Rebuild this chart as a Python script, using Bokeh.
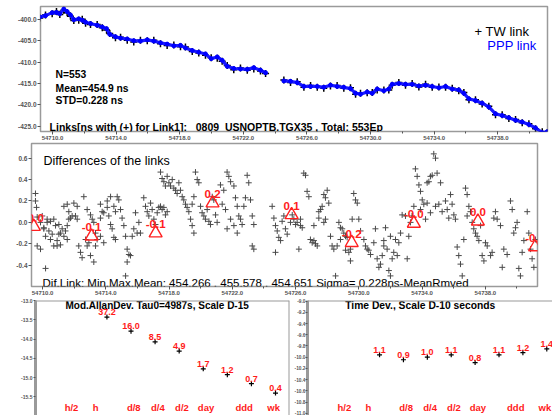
import numpy as np
from bokeh.plotting import figure
from bokeh.layouts import column, row
from bokeh.models import Range1d, FixedTicker, NumeralTickFormatter, Span
from bokeh.core.properties import value
from bokeh.embed import file_html
from bokeh.resources import INLINE

FONT = "Liberation Sans"
FRAME = "#9a9a9a"
TICK = "#555555"

# ---------------- data: top panel (links, ns) ----------------
top_mjd = [54709.20, 54709.56, 54709.98, 54710.25, 54710.46, 54710.71, 54710.92, 54711.13, 54711.34, 54711.65,
           54711.87, 54712.08, 54712.39, 54712.81, 54713.13, 54713.40, 54713.60, 54713.96, 54714.28, 54714.70,
           54715.11, 54715.53, 54715.96, 54716.37, 54716.79, 54717.21, 54717.63, 54718.05, 54718.36, 54718.79,
           54719.20, 54719.62, 54719.98, 54720.36, 54720.67, 54720.99, 54721.40, 54721.82, 54722.25, 54722.66,
           54723.08, 54723.40,
           54724.55, 54724.97, 54725.39, 54725.81, 54726.23, 54726.65, 54727.06, 54727.48, 54727.90, 54728.32,
           54728.74, 54729.06, 54729.37, 54729.79, 54730.11, 54730.42, 54730.84, 54731.15, 54731.36, 54731.78,
           54732.20, 54732.62, 54733.04, 54733.46, 54733.88, 54734.30, 54734.72, 54735.14, 54735.55, 54735.87,
           54736.19, 54736.60, 54737.02, 54737.44, 54737.86, 54738.28, 54738.70, 54739.12, 54739.54, 54739.96,
           54740.38, 54740.80, 54741.11]
ppp_ns = [-399.47, -399.15, -398.45, -398.4, -398.7, -397.6, -398.2, -399.0, -400.1, -399.9,
          -400.2, -400.7, -401.0, -401.4, -401.8, -402.2, -403.5, -404.1, -404.4, -404.6,
          -405.0, -405.1, -404.8, -405.1, -405.5, -405.8, -406.2, -406.1, -406.7, -407.3,
          -407.7, -408.1, -409.2, -408.8, -409.6, -411.0, -411.5, -411.6, -411.7, -411.3,
          -411.9, -412.5,
          -414.4, -414.5, -414.8, -415.7, -415.7, -415.7, -415.9, -415.4, -415.7, -415.9,
          -416.2, -417.3, -417.5, -417.0, -417.3, -416.3, -416.7, -416.3, -415.2, -415.0,
          -415.2, -415.2, -415.6, -415.4, -415.7, -416.0, -415.7, -416.3, -416.5, -417.3,
          -418.6, -419.0, -419.6, -420.5, -422.1, -422.5, -423.0, -423.6, -424.0, -424.6,
          -425.4, -426.5, -426.3]
tw_ns = [-399.7, -399.0, -398.7, -398.2, -398.9, -397.9, -398.5, -399.3, -400.3, -400.2,
         -400.0, -400.9, -401.2, -401.2, -402.0, -402.5, -403.3, -404.3, -404.2, -404.9,
         -405.3, -404.9, -405.0, -404.9, -405.7, -406.1, -406.0, -406.4, -406.5, -407.5,
         -407.9, -408.4, -409.0, -409.1, -409.8, -410.8, -411.8, -411.4, -411.9, -411.6,
         -412.1, -412.7,
         -414.2, -414.8, -414.6, -415.9, -415.5, -415.9, -416.1, -415.6, -415.5, -416.1,
         -416.0, -417.5, -417.3, -417.2, -417.1, -416.5, -416.5, -416.5, -415.4, -414.8,
         -415.4, -415.0, -415.8, -415.2, -415.9, -415.8, -415.9, -416.1, -416.7, -417.1,
         -418.8, -418.8, -419.8, -420.3, -422.3, -422.3, -423.2, -423.4, -424.2, -424.4,
         -425.6, -426.3, -426.5]
top_yticks = [-425, -420, -415, -410, -405, -400]
mjd_ticks = [54710, 54714, 54718, 54722, 54726, 54730, 54734, 54738]
mjd_minor = list(range(54710, 54742, 2))

# ---------------- data: middle panel (differences, ns) ----------------
diff_mjd = [54709.55, 54709.55, 54709.62, 54709.66, 54709.98, 54710.29, 54710.50, 54710.71, 54710.82, 54711.03,
            54710.08, 54710.40, 54710.61, 54711.03, 54711.13, 54711.35, 54711.56, 54709.66, 54709.87, 54710.08,
            54710.19, 54710.50, 54710.71, 54710.92, 54711.13, 54711.56, 54711.66, 54711.77, 54711.87, 54711.35,
            54711.56, 54711.66, 54711.98, 54712.19, 54710.19, 54709.87, 54710.29, 54710.92, 54711.24, 54711.45,
            54712.08, 54712.19, 54712.29, 54712.40, 54712.50, 54712.72, 54712.82, 54712.93, 54713.03, 54713.24,
            54713.35, 54712.61, 54712.82, 54713.03, 54713.14, 54713.24, 54713.35, 54713.45, 54713.66, 54713.87,
            54713.66, 54713.77, 54713.87, 54714.09, 54714.09, 54714.30, 54713.66,
            54714.19, 54714.30, 54714.40, 54714.51, 54714.61, 54714.72, 54714.82, 54714.93, 54715.03, 54714.51,
            54714.61, 54715.14, 54715.25, 54715.35, 54715.46, 54715.56, 54715.35, 54715.25, 54715.67, 54715.77,
            54715.88, 54715.98, 54716.19, 54716.09,
            54716.40, 54716.51, 54716.62, 54716.72, 54716.83, 54716.93, 54717.04, 54717.14, 54717.25, 54717.35,
            54717.46, 54717.56, 54717.67, 54717.77, 54717.88, 54717.46, 54717.56, 54717.67, 54717.77, 54717.88,
            54717.99, 54718.09, 54718.20, 54718.30, 54718.41, 54718.51, 54718.62,
            54718.72, 54718.83, 54718.93, 54719.04, 54719.14, 54719.25, 54719.36, 54719.46, 54719.57, 54719.67,
            54719.78, 54719.88, 54719.99, 54720.09, 54720.20, 54720.30, 54720.41, 54720.52, 54720.62, 54720.73,
            54720.83, 54720.94, 54721.04, 54719.46, 54719.57,
            54721.25, 54721.46, 54721.67, 54721.78, 54721.89, 54722.10, 54722.20, 54722.31, 54722.41, 54722.52,
            54722.62, 54722.73, 54722.83, 54722.94, 54723.04, 54723.15, 54723.26, 54723.36, 54723.26, 54723.36,
            54721.36, 54721.57, 54721.89, 54722.10, 54721.67, 54722.31,
            54724.52, 54724.63, 54724.73, 54724.84, 54724.94, 54725.05, 54725.15, 54725.26, 54725.36, 54725.47,
            54724.73, 54725.68, 54725.79, 54725.89, 54726.00, 54726.10, 54726.21, 54726.31, 54726.42, 54726.52,
            54726.63, 54726.73, 54726.84, 54726.31,
            54726.94, 54727.05, 54727.16, 54727.26, 54727.37, 54727.47, 54727.58, 54727.68, 54727.79, 54727.89,
            54728.00, 54728.10, 54728.21, 54728.31, 54728.42, 54728.53, 54728.63, 54727.79, 54727.89, 54727.47,
            54727.16,
            54728.74, 54728.84, 54728.95, 54729.05, 54729.16, 54729.26, 54729.37, 54729.47, 54729.58, 54729.68,
            54729.79, 54729.90, 54730.00, 54730.11, 54730.32, 54730.42, 54730.53, 54730.63, 54730.74, 54728.84,
            54729.16, 54729.47,
            54730.95, 54731.05, 54731.16, 54731.27, 54731.37, 54731.48, 54731.58, 54731.69, 54731.79, 54731.90,
            54732.00, 54732.11, 54732.21, 54732.32, 54732.43, 54732.53, 54732.64, 54732.74, 54732.00, 54731.58,
            54732.95, 54733.06, 54733.16, 54733.27, 54733.37, 54733.48, 54733.58, 54733.69, 54733.80, 54733.90,
            54734.01, 54734.11, 54734.22, 54734.32, 54734.43, 54734.53, 54734.64, 54734.74, 54734.85, 54734.95,
            54735.06, 54735.17, 54735.27, 54734.85, 54733.90, 54734.32, 54734.53,
            54735.48, 54735.59, 54735.69, 54735.80, 54735.90, 54736.01, 54736.11, 54736.22, 54736.32, 54736.43,
            54736.54, 54736.64, 54736.75, 54736.85, 54736.96, 54737.06, 54737.17, 54737.27, 54737.38, 54737.48,
            54737.59, 54737.70, 54737.80, 54737.91, 54736.85,
            54738.01, 54738.12, 54738.33, 54738.43, 54738.54, 54738.64, 54738.75, 54738.96, 54739.07, 54739.17,
            54739.38, 54739.59, 54739.70, 54739.80, 54739.91, 54740.01, 54740.12, 54740.22, 54740.33, 54740.44,
            54740.65, 54740.75, 54740.86, 54740.96, 54741.07, 54741.17]
diff_ns = [0.27, 0.20, 0.14, 0.05, 0.06, 0.03, 0.01, 0.03, -0.03, -0.02,
           -0.06, -0.08, -0.11, -0.11, -0.10, -0.13, -0.16, -0.22, -0.25, -0.05,
           -0.13, -0.16, -0.22, -0.22, -0.21, -0.03, 0.03, 0.04, 0.06, 0.15,
           0.17, 0.10, 0.18, 0.15, -0.43, 0.00, 0.00, -0.17, -0.06, -0.08,
           0.06, 0.03, -0.22, -0.28, -0.33, -0.16, -0.22, -0.19, -0.31, -0.37,
           -0.22, 0.24, 0.12, 0.07, 0.03, 0.00, -0.10, -0.16, -0.13, -0.19,
           0.04, 0.10, 0.09, 0.14, 0.20, 0.24, 0.17,
           0.06, -0.02, -0.06, -0.14, -0.16, 0.24, 0.21, 0.12, 0.04, 0.15,
           0.10, -0.03, -0.13, -0.25, -0.30, -0.31, -0.37, -0.50, -0.13, -0.06,
           0.09, -0.10, -0.10, 0.00,
           0.23, 0.15, 0.10, 0.06, 0.18, 0.12, 0.03, -0.02, 0.09, 0.14,
           0.15, 0.12, 0.14, 0.07, 0.10, 0.47, 0.41, 0.38, 0.34, 0.43,
           0.37, 0.34, 0.40, 0.32, 0.30, 0.27, 0.37,
           0.30, 0.24, 0.21, 0.17, 0.14, 0.10, 0.03, -0.03, -0.10, 0.47,
           0.40, 0.37, 0.15, 0.09, 0.06, 0.03, 0.12, 0.01, -0.02, 0.24,
           0.21, 0.07, 0.00, 0.17, 0.24,
           0.35, 0.30, 0.47, 0.43, 0.38, 0.34, 0.23, 0.15, 0.06, 0.03,
           -0.02, 0.15, 0.23, 0.44, 0.37, 0.21, 0.06, -0.02, -0.22, -0.25,
           0.17, 0.12, 0.03, -0.03, -0.06, -0.10,
           0.15, 0.04, -0.03, -0.08, -0.14, -0.17, 0.01, 0.06, -0.06, -0.11,
           -0.28, 0.00, 0.07, 0.03, -0.02, 0.00, -0.25, -0.03, -0.05, 0.46,
           0.44, 0.29, 0.24, 0.03,
           -0.16, -0.19, -0.17, -0.20, -0.22, 0.10, 0.12, 0.15, 0.26, 0.23,
           0.30, 0.18, -0.13, -0.22, -0.25, -0.50, -0.22, 0.00, 0.03, 0.04,
           -0.03,
           0.00, -0.05, -0.06, -0.10, -0.13, -0.14, -0.28, -0.36, 0.03, 0.27,
           0.21, 0.18, 0.03, -0.08, -0.16, -0.22, -0.25, -0.26, -0.30, -0.16,
           -0.26, -0.25,
           -0.19, -0.06, -0.34, -0.42, -0.39, -0.31, -0.17, -0.05, -0.25, -0.45,
           -0.50, -0.34, -0.28, -0.16, -0.31, -0.19, -0.10, 0.07, -0.13, -0.22,
           0.06, -0.34, -0.13, 0.00, 0.06, 0.15, 0.50, 0.43, 0.35, 0.29,
           0.21, 0.17, 0.03, 0.37, 0.38, 0.43, 0.44, 0.64, 0.60, 0.46,
           0.17, 0.37, 0.10, 0.15, 0.12, 0.18, 0.09,
           0.20, 0.12, 0.04, 0.26, 0.17, 0.07, 0.03, -0.23, -0.31, -0.39,
           -0.50, -0.16, 0.32, 0.26, 0.15, 0.10, 0.00, -0.06, -0.10, -0.13,
           -0.17, -0.03, -0.31, -0.36, 0.06,
           -0.19, -0.22, -0.31, -0.28, 0.04, 0.10, 0.03, -0.03, -0.42, -0.25,
           -0.30, 0.20, 0.12, -0.10, -0.05, 0.00, -0.43, -0.50, -0.28, -0.17,
           0.10, -0.10, -0.25, -0.34, -0.42, -0.16]
tri_mjd = [54709.45, 54713.10, 54717.15, 54720.75, 54725.75, 54729.55, 54733.48, 54737.53, 54741.15]
tri_ns = [-0.04, -0.13, -0.10, 0.18, 0.07, -0.19, -0.01, 0.01, -0.23]
tri_text = ["-0.0", "-0.1", "-0.1", "0.2", "0.1", "-0.2", "-0.0", "0.0", "-0.2"]
mid_yticks = [-0.4, -0.2, 0.0, 0.2, 0.4, 0.6]

# ---------------- data: bottom panels ----------------
tau_s = [4987, 9974, 19948, 39896, 79792, 159584, 319168, 638336]
mdev_e15 = [37.2, 16.0, 8.5, 4.9, 1.7, 1.2, 0.7, 0.4]
tdev_e10 = [1.1, 0.9, 1.0, 1.1, 0.8, 1.1, 1.2, 1.4]
cat_labels = ["h/2", "h", "d/8", "d/4", "d/2", "day", "ddd", "wk"]
cat_tau = [1800, 3600, 10800, 21600, 43200, 86400, 259200, 604800]
mdev_yticks = [-16.0, -15.5, -15.0, -14.5, -14.0, -13.5, -13.0]
tdev_yticks = [-11.0, -10.8, -10.6, -10.4, -10.2, -10.0, -9.8, -9.6, -9.4, -9.2, -9.0]


def style_axis(ax, size="6.5px"):
    ax.major_label_text_font = FONT
    ax.major_label_text_font_size = size
    ax.major_label_text_font_style = "bold"
    ax.major_label_text_color = TICK
    ax.axis_line_color = None
    ax.major_tick_line_color = TICK
    ax.major_tick_out = 3
    ax.major_tick_in = 0
    ax.minor_tick_line_color = TICK
    ax.minor_tick_out = 2
    ax.minor_tick_in = 0
    ax.major_label_standoff = 1


def txt(p, x, y, s, size, color="black", style="normal", align="left", baseline="middle", yoff=0):
    p.text(x=x, y=y, text=s, text_font=value(FONT), text_font_size=size, text_font_style=style,
           text_color=color, text_align=align, text_baseline=baseline, y_offset=yoff)


# ================= top panel =================
pA = figure(width=552, height=142, x_range=Range1d(54709.245, 54741.13), y_range=Range1d(-426.23, -397.01),
            output_backend="svg", toolbar_location=None,
            min_border_left=40, min_border_right=5, min_border_top=6, min_border_bottom=9)
pA.grid.visible = False
pA.outline_line_color = FRAME
pA.outline_line_width = 1.5
pA.xaxis.ticker = FixedTicker(ticks=mjd_ticks, minor_ticks=mjd_minor)
pA.xaxis.formatter = NumeralTickFormatter(format="0.0")
pA.yaxis.ticker = FixedTicker(ticks=top_yticks)
pA.yaxis.formatter = NumeralTickFormatter(format="0.0")
style_axis(pA.xaxis[0], "6px")
style_axis(pA.yaxis[0], "6.5px")

t = np.array(top_mjd)
v = np.array(ppp_ns)
gaps = np.where(np.diff(t) > 0.8)[0] + 1
pA.scatter(top_mjd, tw_ns, marker="cross", size=7, color="black", line_width=1.5)
pA.line(np.insert(t, gaps, np.nan), np.insert(v, gaps, np.nan), color="#1a1aff", line_width=3.2)
pA.scatter(top_mjd, ppp_ns, marker="circle", size=4, color="#0000ff")

xa0 = pA.x_range.start
txt(pA, [xa0 + 0.95], [-412.9], ["N=553"], "10.3px", style="bold")
txt(pA, [xa0 + 0.95], [-416.1], ["Mean=454.9 ns"], "10.3px", style="bold")
txt(pA, [xa0 + 0.95], [-419.1], ["STD=0.228 ns"], "10.3px", style="bold")
txt(pA, [xa0 + 27.3], [-402.8], ["+ TW link"], "13px")
txt(pA, [xa0 + 28.1], [-406.2], ["PPP link"], "13px", color="#0000ff")
txt(pA, [xa0 + 0.57], [-425.1], ["Links[ns with (+) for Link1]: _0809_USNOPTB.TGX35 , Total: 553Ep"],
    "10.5px", style="bold")

# ================= middle panel =================
pB = figure(width=552, height=155, x_range=Range1d(54709.3, 54741.3), y_range=Range1d(-0.599, 0.737),
            output_backend="svg", toolbar_location=None,
            min_border_left=31, min_border_right=15, min_border_top=1, min_border_bottom=9)
pB.grid.visible = False
pB.outline_line_color = FRAME
pB.outline_line_width = 1.5
pB.xaxis.ticker = FixedTicker(ticks=mjd_ticks, minor_ticks=mjd_minor)
pB.xaxis.formatter = NumeralTickFormatter(format="0.0")
pB.yaxis.ticker = FixedTicker(ticks=mid_yticks)
pB.yaxis.formatter = NumeralTickFormatter(format="0.0")
style_axis(pB.xaxis[0], "6px")
style_axis(pB.yaxis[0], "6.5px")

pB.scatter(diff_mjd, diff_ns, marker="cross", size=6, color="#4a4a4a", line_width=1.0)
pB.scatter(tri_mjd, tri_ns, marker="triangle", size=13, line_color="#ff2020", fill_color=None, line_width=1.4)
txt(pB, tri_mjd, tri_ns, tri_text, "11.5px", color="#ff2020", style="bold", align="center",
    baseline="bottom", yoff=-5)
xb0 = pB.x_range.start
txt(pB, [xb0 + 0.76], [0.571], ["Differences of the links"], "12.5px")
txt(pB, [xb0 + 0.70], [-0.562],
    ["Dif.Link: Min,Max,Mean: 454.266 , 455.578 , 454.651     Sigma= 0.228ns-MeanRmved"], "11.5px")

# ================= bottom-left panel (MDEV) =================
pC = figure(width=291, height=118, x_range=Range1d(2.805, 5.98), y_range=Range1d(-15.98, -13.0),
            output_backend="svg", toolbar_location=None, x_axis_location=None,
            min_border_left=35, min_border_right=2, min_border_top=3, min_border_bottom=0)
pC.grid.visible = False
pC.outline_line_color = None
pC.yaxis.ticker = FixedTicker(ticks=mdev_yticks)
pC.yaxis.formatter = NumeralTickFormatter(format="0.0")
style_axis(pC.yaxis[0], "5px")
pC.yaxis.axis_line_color = FRAME
pC.yaxis.axis_line_width = 3
pC.yaxis.major_tick_out = 2
pC.add_layout(Span(location=-13.0, dimension="width", line_color=FRAME, line_width=2))
pC.add_layout(Span(location=5.98, dimension="height", line_color=FRAME, line_width=2))

xc = np.log10(np.array(tau_s, dtype=float))
yc = np.log10(np.array(mdev_e15) * 1e-15)
pC.scatter(xc, yc, marker="cross", size=5, color="black", line_width=1.2)
txt(pC, xc, yc, [f"{m:.1f}" for m in mdev_e15], "9px", color="#ff1a1a", style="bold",
    align="center", baseline="bottom", yoff=-2)
cat_x = np.log10(np.array(cat_tau, dtype=float))
txt(pC, cat_x, [pC.y_range.start] * len(cat_x), cat_labels, "9.5px", color="#ff1a1a", style="bold",
    align="center", baseline="bottom", yoff=-3)
txt(pC, [3.18], [-13.13], ["Mod.AllanDev. Tau0=4987s, Scale D-15"], "10px", style="bold")

# ================= bottom-right panel (TDEV) =================
pD = figure(width=261, height=118, x_range=Range1d(2.79, 5.877), y_range=Range1d(-11.04, -8.99),
            output_backend="svg", toolbar_location=None, x_axis_location=None,
            min_border_left=14, min_border_right=0, min_border_top=3, min_border_bottom=0)
pD.grid.visible = False
pD.outline_line_color = None
pD.yaxis.ticker = FixedTicker(ticks=tdev_yticks)
pD.yaxis.formatter = NumeralTickFormatter(format="0.0")
style_axis(pD.yaxis[0], "4.8px")
pD.yaxis.axis_line_color = FRAME
pD.yaxis.axis_line_width = 3
pD.yaxis.major_tick_out = 2
pD.yaxis.major_label_standoff = 0
pD.add_layout(Span(location=-8.99, dimension="width", line_color=FRAME, line_width=2))

yd = np.log10(np.array(tdev_e10) * 1e-10)
pD.scatter(xc, yd, marker="cross", size=5, color="black", line_width=1.2)
txt(pD, xc, yd, [f"{m:.1f}" for m in tdev_e10], "9px", color="#ff1a1a", style="bold",
    align="center", baseline="bottom", yoff=-2)
txt(pD, cat_x, [pD.y_range.start] * len(cat_x), cat_labels, "9.5px", color="#ff1a1a", style="bold",
    align="center", baseline="bottom", yoff=-3)
txt(pD, [3.265], [-9.08], ["Time Dev., Scale D-10 seconds"], "10.3px", style="bold")

# each plot wrapped in its own container so frames are not aligned across panels
layout = column(column(pA), column(pB), column(row(pC, pD)))
open("out.html", "w").write(file_html(layout, INLINE))
